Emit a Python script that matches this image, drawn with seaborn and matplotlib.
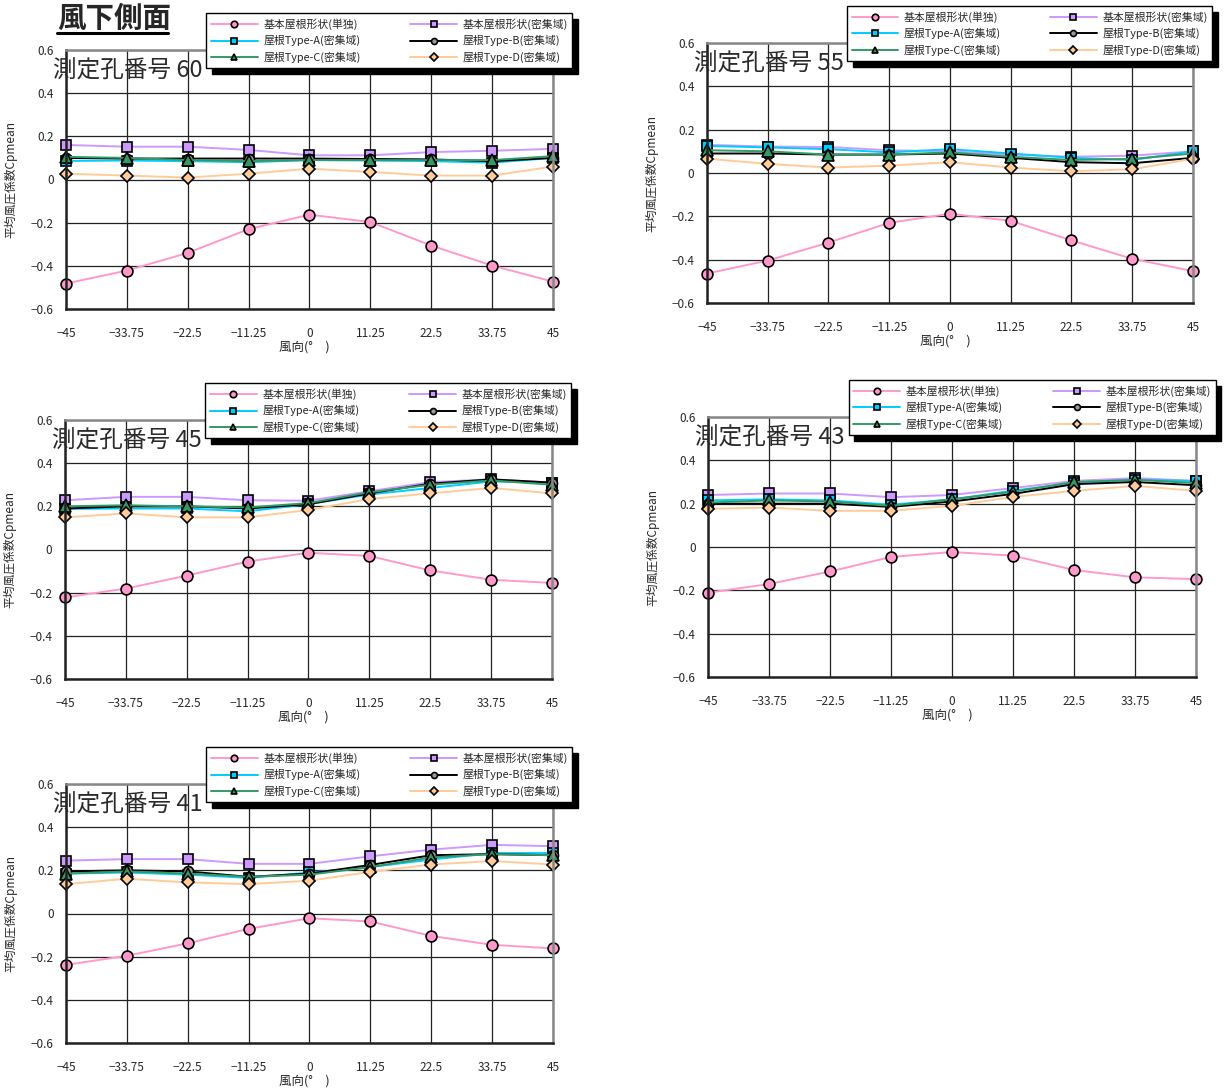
import numpy as np
import pandas as pd
import matplotlib.pyplot as plt
import seaborn as sns
from matplotlib.lines import Line2D

# wind direction (deg) and tick labels
wind_dir = [-45, -33.75, -22.5, -11.25, 0, 11.25, 22.5, 33.75, 45]
xtick_labels = ['−45', '−33.75', '−22.5', '−11.25', '0', '11.25', '22.5', '33.75', '45']
yticks = [-0.6, -0.4, -0.2, 0, 0.2, 0.4, 0.6]
ytick_labels = ['−0.6', '−0.4', '−0.2', '0', '0.2', '0.4', '0.6']

series_names = ['基本屋根形状(単独)', '基本屋根形状(密集域)', '屋根Type-A(密集域)',
                '屋根Type-B(密集域)', '屋根Type-C(密集域)', '屋根Type-D(密集域)']

cp60 = {
    'single': [-0.482, -0.422, -0.340, -0.230, -0.163, -0.197, -0.306, -0.399, -0.473],
    'dense': [0.160, 0.152, 0.152, 0.137, 0.112, 0.112, 0.127, 0.133, 0.142],
    'A': [0.086, 0.088, 0.085, 0.080, 0.090, 0.088, 0.085, 0.078, 0.100],
    'B': [0.100, 0.097, 0.097, 0.097, 0.097, 0.095, 0.093, 0.085, 0.100],
    'C': [0.105, 0.100, 0.090, 0.085, 0.090, 0.090, 0.090, 0.090, 0.108],
    'D': [0.027, 0.018, 0.009, 0.027, 0.050, 0.035, 0.018, 0.018, 0.060],
}
cp55 = {
    'single': [-0.464, -0.404, -0.321, -0.230, -0.188, -0.221, -0.311, -0.396, -0.453],
    'dense': [0.130, 0.122, 0.120, 0.105, 0.100, 0.085, 0.075, 0.080, 0.100],
    'A': [0.125, 0.118, 0.110, 0.095, 0.110, 0.090, 0.070, 0.060, 0.100],
    'B': [0.090, 0.090, 0.085, 0.085, 0.090, 0.070, 0.050, 0.045, 0.070],
    'C': [0.105, 0.100, 0.085, 0.085, 0.095, 0.075, 0.060, 0.065, 0.090],
    'D': [0.066, 0.042, 0.025, 0.034, 0.050, 0.025, 0.008, 0.017, 0.066],
}
cp45 = {
    'single': [-0.222, -0.181, -0.121, -0.056, -0.015, -0.030, -0.097, -0.140, -0.155],
    'dense': [0.228, 0.244, 0.244, 0.228, 0.226, 0.270, 0.312, 0.325, 0.310],
    'A': [0.188, 0.190, 0.190, 0.177, 0.210, 0.255, 0.285, 0.315, 0.310],
    'B': [0.190, 0.200, 0.200, 0.190, 0.210, 0.260, 0.305, 0.325, 0.310],
    'C': [0.200, 0.205, 0.200, 0.195, 0.215, 0.265, 0.300, 0.320, 0.300],
    'D': [0.149, 0.167, 0.149, 0.149, 0.183, 0.234, 0.260, 0.285, 0.260],
}
cp43 = {
    'single': [-0.211, -0.171, -0.113, -0.046, -0.023, -0.040, -0.106, -0.140, -0.148],
    'dense': [0.240, 0.247, 0.247, 0.230, 0.240, 0.272, 0.305, 0.318, 0.305],
    'A': [0.215, 0.220, 0.215, 0.195, 0.220, 0.260, 0.295, 0.310, 0.305],
    'B': [0.200, 0.200, 0.200, 0.185, 0.210, 0.245, 0.290, 0.300, 0.285],
    'C': [0.205, 0.215, 0.210, 0.190, 0.220, 0.255, 0.300, 0.310, 0.295],
    'D': [0.176, 0.182, 0.167, 0.167, 0.190, 0.231, 0.259, 0.282, 0.259],
}
cp41 = {
    'single': [-0.238, -0.196, -0.138, -0.071, -0.022, -0.037, -0.104, -0.145, -0.162],
    'dense': [0.245, 0.252, 0.252, 0.230, 0.230, 0.265, 0.296, 0.318, 0.312],
    'A': [0.185, 0.190, 0.180, 0.165, 0.190, 0.215, 0.250, 0.280, 0.280],
    'B': [0.195, 0.200, 0.195, 0.170, 0.185, 0.225, 0.270, 0.275, 0.270],
    'C': [0.185, 0.195, 0.185, 0.170, 0.180, 0.215, 0.260, 0.275, 0.270],
    'D': [0.136, 0.161, 0.144, 0.136, 0.152, 0.193, 0.227, 0.243, 0.227],
}

holes = [60, 55, 45, 43, 41]
hole_data = [cp60, cp55, cp45, cp43, cp41]

# key, line colour, marker face, marker, size
styles = [
    ('single', '#FF99CC', '#FF99CC', 'o', 7.8),
    ('dense', '#CC99FF', '#CC99FF', 's', 7.2),
    ('A', '#00CCFF', '#00CCFF', 's', 6.8),
    ('B', '#000000', '#999999', 'o', 7.2),
    ('C', '#339966', '#339966', '^', 8.2),
    ('D', '#FFCC99', '#FFCC99', 'D', 6.2),
]

sns.set_style('white')
plt.rcParams['font.family'] = ['Noto Sans CJK JP', 'DejaVu Sans']

fig = plt.figure(figsize=(12.24, 10.89), dpi=100)
W, H = 1224, 1089
# axes boxes in pixels: left, top, right, bottom
boxes = [(66, 50, 553, 309), (707, 43, 1193, 303), (65, 420, 552, 679),
         (708, 417, 1196, 677), (66, 784, 553, 1043)]

for (l, t, r, b), hole, cp in zip(boxes, holes, hole_data):
    ax = fig.add_axes([l / W, 1 - b / H, (r - l) / W, (b - t) / H])
    for (key, lc, fc, mk, ms), name in zip(styles, series_names):
        sns.lineplot(x=wind_dir, y=cp[key], ax=ax, color=lc, marker=mk, markersize=ms,
                     markerfacecolor=fc, markeredgecolor='black', markeredgewidth=1.2,
                     linewidth=1.4, label=name, errorbar=None, clip_on=False)
    ax.set_xlim(-45, 45)
    ax.set_ylim(-0.6, 0.6)
    ax.set_xticks(wind_dir)
    ax.set_xticklabels(xtick_labels)
    ax.set_yticks(yticks)
    ax.set_yticklabels(ytick_labels)
    ax.tick_params(axis='x', length=0, pad=13, labelsize=8.5)
    ax.tick_params(axis='y', length=0, pad=9, labelsize=8.5)
    ax.grid(True, color='#222222', linewidth=0.9)
    ax.set_axisbelow(True)
    for side in ['top', 'right']:
        ax.spines[side].set_color('#888888')
        ax.spines[side].set_linewidth(1.8)
    for side in ['left', 'bottom']:
        ax.spines[side].set_color('#222222')
        ax.spines[side].set_linewidth(1.8)
    ax.set_xlabel('風向(°\u3000)', fontsize=9)
    ax.xaxis.set_label_coords(0.49, -0.122)
    ax.set_ylabel('平均風圧係数Cpmean', fontsize=8.5)
    ax.yaxis.set_label_coords(-0.1, 0.5)

    ax.text(-0.027, 0.92, f'測定孔番号 {hole}', transform=ax.transAxes, fontsize=17,
            color='#2a2a2a', va='center', ha='left', zorder=5)

    handles, labels = ax.get_legend_handles_labels()
    order = [0, 2, 4, 1, 3, 5]
    leg = ax.legend([handles[i] for i in order], [labels[i] for i in order], ncol=2,
                    loc='upper left', bbox_to_anchor=(0.288, 0, 0.752, 1.142), mode='expand',
                    borderaxespad=0, fontsize=7.8, frameon=True, fancybox=False,
                    edgecolor='black', framealpha=1, handlelength=4.3, handletextpad=0.5,
                    labelspacing=0.5, borderpad=0.45, markerscale=0.6,
                    shadow={'ox': 4, 'oy': -4.5, 'color': 'black', 'alpha': 1})
    leg.get_frame().set_linewidth(1.0)
    leg.set_zorder(10)

fig.text(57 / W, 1 - 19 / H, '風下側面', fontsize=20.5, fontweight='bold', va='center', ha='left')
fig.add_artist(Line2D([57 / W, 168 / W], [1 - 33 / H, 1 - 33 / H], color='black', linewidth=2.2))

fig.savefig('out.png', dpi=100)
